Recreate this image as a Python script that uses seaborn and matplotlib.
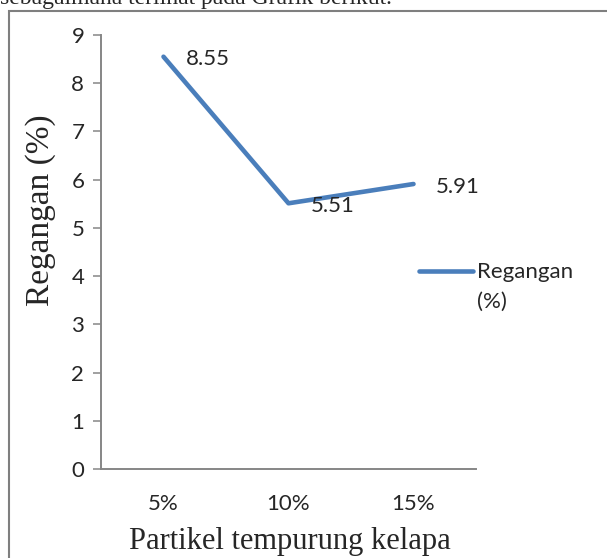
import numpy as np
import pandas as pd
import matplotlib
matplotlib.use("Agg")
import matplotlib.pyplot as plt
from matplotlib.patches import Rectangle
import seaborn as sns

# data
categories = ["5%", "10%", "15%"]
regangan = [8.55, 5.51, 5.91]
series_name = "Regangan (%)"

df = pd.DataFrame({"partikel": categories, "regangan": regangan})

sns.set_style("white")
plt.rcParams["font.family"] = ["Lato", "DejaVu Sans"]

W, H = 607, 558
fig = plt.figure(figsize=(W / 100, H / 100), dpi=100)

# axes box in pixels: left spine x=101, y=0 at 469, y=9 at 35, right end 476
ax = fig.add_axes([101 / W, (H - 469) / H, 375 / W, 434 / H])

blue = "#4a7ebb"
grey = "#868686"

sns.lineplot(data=df, x="partikel", y="regangan", sort=False, ax=ax,
             color=blue, linewidth=3.3, label="Regangan\n(%)")

ax.set_xlim(-0.5, 2.5)
ax.set_ylim(0, 9)
ax.set_yticks(range(0, 10))
ax.set_xticks(range(len(categories)))
ax.set_xticklabels(categories)
ax.tick_params(axis="y", which="major", length=6, width=1.1, color=grey,
               labelsize=16, pad=6, direction="out", left=True)
ax.tick_params(axis="x", length=0, labelsize=16, pad=18)

for side in ["top", "right"]:
    ax.spines[side].set_visible(False)
for side in ["left", "bottom"]:
    ax.spines[side].set_color(grey)
    ax.spines[side].set_linewidth(1.4)

ax.set_xlabel("")
ax.set_ylabel("")

# data labels to the right of each point
for i, v in enumerate(regangan):
    ax.annotate(f"{v:.2f}", (i, v), xytext=(16, -2), textcoords="offset points",
                ha="left", va="center", fontsize=16)

# legend on the right, handle level with the first text line
leg = ax.legend(loc="upper left", bbox_to_anchor=(419 / W, 1 - 262 / H),
                bbox_transform=fig.transFigure, frameon=False, fontsize=16,
                handlelength=2.45, handletextpad=0.15, borderpad=0,
                borderaxespad=0)
for t in leg.get_texts():
    t.set_linespacing(1.6)
for line in leg.get_lines():
    line.set_linewidth(3.3)
    line.set_ydata(np.asarray(line.get_ydata(), dtype=float) + 11.2)

# axis titles in Times-style serif
fig.text(41 / W, 1 - 210 / H, series_name, rotation=90, ha="center", va="center",
         fontsize=24, family="Liberation Serif")
fig.text(290 / W, 1 - 542 / H, "Partikel tempurung kelapa", ha="center",
         va="center", fontsize=22, family="Liberation Serif")

# cropped caption line above the frame
fig.text(0, 1 - 4 / H, "sebagaimana terlihat pada Grafik berikut.", ha="left",
         va="baseline", fontsize=17, family="Liberation Serif")

# outer frame of the chart object
frame = Rectangle((8.5 / W, -0.1), 1.0, 1 - 11 / H + 0.1, transform=fig.transFigure,
                  fill=False, edgecolor="#7f7f7f", linewidth=1.5, clip_on=False)
fig.patches.append(frame)

fig.savefig("out.png", dpi=100)
